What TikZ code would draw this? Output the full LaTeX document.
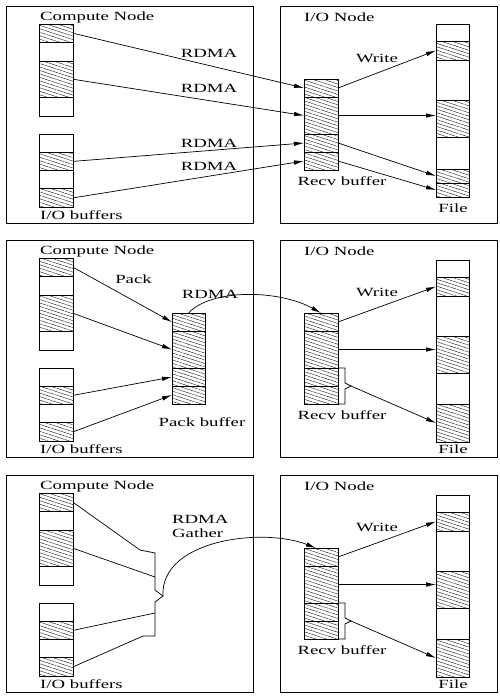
\documentclass[tikz,border=0pt]{standalone}
\usepackage{fontspec}
\setmainfont{Liberation Serif}[FakeStretch=1.5]
\usetikzlibrary{arrows.meta,patterns.meta}
\newcommand\Seg[6]{\node[#6, minimum width={(#4-#2)*1pt}, minimum height={(#5-#3)*1pt}] (#1) at ({(#2+#4)/2},{(#3+#5)/2}) {};}
\newcommand\Cols[1]{%
  \Seg{#1L1}{39}{18}{73}{36.5}{hseg}
  \Seg{#1L2}{39}{36.5}{73}{55}{wseg}
  \Seg{#1L3}{39}{55}{73}{91.5}{hseg}
  \Seg{#1L4}{39}{91.5}{73}{110}{wseg}
  \Seg{#1B1}{39}{128}{73}{146.25}{wseg}
  \Seg{#1B2}{39}{146.25}{73}{164.5}{hseg}
  \Seg{#1B3}{39}{164.5}{73}{182.75}{wseg}
  \Seg{#1B4}{39}{182.75}{73}{201}{hseg}
  \Seg{#1R1}{304}{73}{338}{91}{hseg}
  \Seg{#1R2}{304}{91}{338}{128}{hseg}
  \Seg{#1R3}{304}{128}{338}{146}{hseg}
  \Seg{#1R4}{304}{146}{338}{164}{hseg}
  \node[frame, minimum width=247pt, minimum height=217pt] (#1cbox) at (129.5,108.5) {};
  \node[frame, minimum width=217pt, minimum height=217pt] (#1ibox) at (388.5,108.5) {};
  \node[lab, anchor=west] (#1cn) at (40,11) {Compute Node};
  \node[lab, anchor=west] (#1iob) at (40,209) {I/O buffers};
  \node[lab, anchor=west] (#1ion) at (304,11) {I/O Node};
  \node[lab] (#1rb) at (342,175) {Recv buffer};
  \node[lab] (#1wr) at (377,52) {Write};
}
\newcommand\FileCol[1]{%
  \Seg{#1F1}{436}{20}{469}{37}{wseg}
  \Seg{#1F2}{436}{37}{469}{56}{hseg}
  \Seg{#1F3}{436}{56}{469}{96}{wseg}
  \Seg{#1F4}{436}{96}{469}{133}{hseg}
  \Seg{#1F5}{436}{133}{469}{164}{wseg}
  \Seg{#1F6}{436}{164}{469}{202}{hseg}
  \node[lab] (#1file) at (453,209) {File};
  \draw[arr] (#1R1.east) -- (#1F2.west);
  \draw[arr] (#1R2.east) -- (#1R2.east -| #1F4.west);
  \coordinate (#1tip) at (351,146);
  \draw[ln] (#1R3.north east) -- (345,128) -- (345,143) -- (#1tip) -- (345,149) -- (345,164) -- (#1R4.south east);
  \draw[arr] (#1tip) -- (#1F6.west);
}
\tikzset{
  seg/.style={draw, rectangle, inner sep=0pt, outer sep=0pt, line width=0.8pt},
  wseg/.style={seg, fill=white},
  hseg/.style={seg, pattern={Lines[angle=-18,distance=3.3pt,line width=0.35pt]}},
  frame/.style={draw, rectangle, inner sep=0pt, outer sep=0pt, line width=0.8pt},
  lab/.style={font=\fontsize{12.5}{14}\selectfont, inner sep=0pt},
  arr/.style={line width=0.7pt, -{Latex[length=10pt,width=4.5pt]}},
  ln/.style={line width=0.7pt},
}
\begin{document}
\begin{tikzpicture}[x=1pt,y=-1pt]
\useasboundingbox (0,0) rectangle (499,696);
% ---------------- panel 1 ----------------
\begin{scope}[shift={(0,6)}]
  \Cols{a}
  \Seg{aF1}{436}{18}{469}{35}{wseg}
  \Seg{aF2}{436}{35}{469}{54}{hseg}
  \Seg{aF3}{436}{54}{469}{94}{wseg}
  \Seg{aF4}{436}{94}{469}{131}{hseg}
  \Seg{aF5}{436}{131}{469}{163}{wseg}
  \Seg{aF6}{436}{163}{469}{177}{hseg}
  \Seg{aF7}{436}{177}{469}{191}{hseg}
  \node[lab] (afile) at (453,202) {File};
  \draw[arr] (aL1.east) -- (aR1.west);
  \draw[arr] (aL3.east) -- (aR2.west);
  \draw[arr] (aB2.east) -- (aR3.west);
  \draw[arr] (aB4.east) -- (aR4.west);
  \draw[arr] (aR1.east) -- (aF2.west);
  \draw[arr] (aR2.east) -- (aR2.east -| aF4.west);
  \draw[arr] (aR3.east) -- (aF6.west);
  \draw[arr] (aR4.east) -- (aF7.west);
  \node[lab] (ar1) at (209,47) {RDMA};
  \node[lab] (ar2) at (209,82) {RDMA};
  \node[lab] (ar3) at (209,137) {RDMA};
  \node[lab] (ar4) at (209,160) {RDMA};
\end{scope}
% ---------------- panel 2 ----------------
\begin{scope}[shift={(0,240)}]
  \Cols{b}
  \FileCol{b}
  \Seg{bP1}{172}{73}{205}{91}{hseg}
  \Seg{bP2}{172}{91}{205}{128}{hseg}
  \Seg{bP3}{172}{128}{205}{146}{hseg}
  \Seg{bP4}{172}{146}{205}{164}{hseg}
  \draw[arr] (bL1.east) -- (bP1.west);
  \draw[arr] (bL3.east) -- (bP2.west);
  \draw[arr] (bB2.east) -- (bP3.west);
  \draw[arr] (bB4.east) -- (bP4.west);
  \draw[arr] (bP1.north) .. controls (212,48) and (280,50) .. (bR1.north);
  \node[lab] (bpk) at (133.5,39) {Pack};
  \node[lab] (brd) at (210,54) {RDMA};
  \node[lab] (bpb) at (202,182) {Pack buffer};
\end{scope}
% ---------------- panel 3 ----------------
\begin{scope}[shift={(0,475)}]
  \Cols{c}
  \FileCol{c}
  \coordinate (cg) at (163,121);
  \draw[ln] (cL1.east) -- (140,75) -- (155,78) -- (155,115) -- (cg) -- (155,127) -- (155,161) -- (143,161) -- (cB4.east);
  \draw[ln] (cL3.east) -- (155,102);
  \draw[ln] (cB2.east) -- (155,138);
  \coordinate (cin) at (316,73);
  \draw[arr] (cg) .. controls (160,65) and (262,52) .. (cin);
  \node[lab, anchor=west] (crd) at (172,44) {RDMA};
  \node[lab, anchor=west] (cga) at (172,58) {Gather};
\end{scope}
\end{tikzpicture}
\end{document}
